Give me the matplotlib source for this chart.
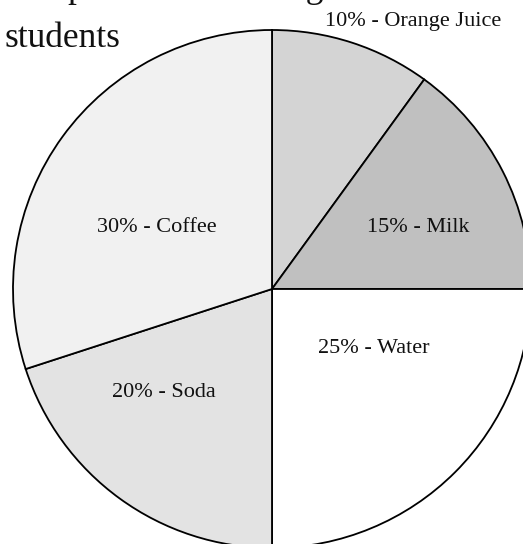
import matplotlib.pyplot as plt

drinks = ["Orange Juice", "Milk", "Water", "Soda", "Coffee"]
shares = [10, 15, 25, 20, 30]

colors = ["#d4d4d4", "#c0c0c0", "#ffffff", "#e3e3e3", "#f1f1f1"]
# label centres in units of the pie radius
label_pos = [(0.544, 1.031), (0.564, 0.239), (0.394, -0.230),
             (-0.417, -0.398), (-0.444, 0.239)]

W, H = 523, 544
fig = plt.figure(figsize=(W / 100, H / 100), dpi=100)
ax = fig.add_axes([0, 0, 1, 1])

ax.pie(shares, colors=colors, startangle=90, counterclock=False,
       radius=1, center=(0, 0),
       wedgeprops=dict(edgecolor="black", linewidth=1.3))

# pie centre sits at pixel (272, 289), radius 259 px
r_px = 259.0
cx, cy = 272.0, 289.0
ax.set_aspect("auto")
ax.set_xlim(-cx / r_px, (W - cx) / r_px)
ax.set_ylim((cy - H) / r_px, cy / r_px)
ax.axis("off")

font = "Liberation Serif"
for name, pct, (x, y) in zip(drinks, shares, label_pos):
    ax.text(x, y, f"{pct}% - {name}", ha="center", va="center",
            fontsize=16, family=font, color="#111111")

# title, partly running off the top of the figure
fig.text(5 / W, 1 + 3 / H, "Sample: drinks among", ha="left", va="baseline",
         fontsize=25.5, family=font, color="#111111")
fig.text(5 / W, 1 - 47 / H, "students", ha="left", va="baseline",
         fontsize=25.5, family=font, color="#111111")

fig.savefig("out.png", dpi=100)
